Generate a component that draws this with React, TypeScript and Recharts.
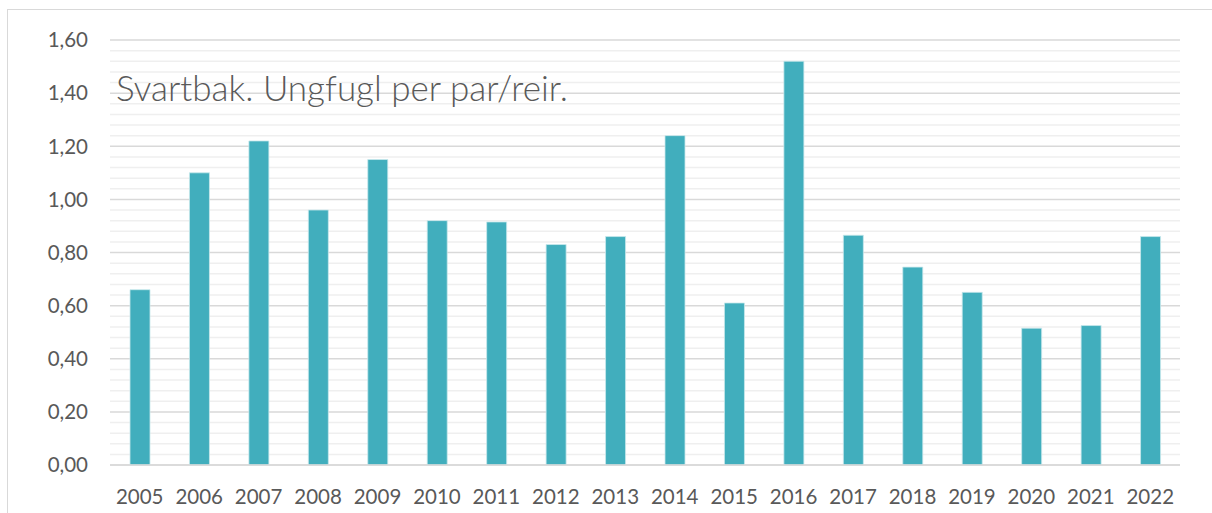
import { BarChart, Bar, XAxis, YAxis, CartesianGrid } from "recharts"

const years = ["2005", "2006", "2007", "2008", "2009", "2010", "2011", "2012", "2013", "2014", "2015", "2016", "2017", "2018", "2019", "2020", "2021", "2022"]
const chicksPerNest = [0.66, 1.10, 1.22, 0.96, 1.15, 0.92, 0.915, 0.83, 0.86, 1.24, 0.61, 1.52, 0.865, 0.745, 0.65, 0.515, 0.525, 0.86]
const majorTicks = [0, 0.2, 0.4, 0.6, 0.8, 1.0, 1.2, 1.4, 1.6]
// lighter lines between the major ones, every 0.04
const minorTicks = majorTicks.slice(0, -1).flatMap(t => [0.04, 0.08, 0.12, 0.16].map(s => +(t + s).toFixed(2)))
const allTicks = [...majorTicks, ...minorTicks].sort((a, b) => a - b)

const chartTitle = "Svartbak. Ungfugl per par/reir."

const data = years.map((year, i) => ({ year, value: chicksPerNest[i] }))

const FONT = "Lato, 'Noto Sans', sans-serif"
const TEXT = "#595959"

const gridLine = (p: any) => (
  <line
    key={p.key ?? `g-${p.index}`}
    x1={p.x1}
    y1={p.y1}
    x2={p.x2}
    y2={p.y2}
    stroke={majorTicks.includes(allTicks[p.index]) ? "#d9d9d9" : "#efefef"}
    strokeWidth={1.5}
  />
)

export default function App() {
  return (
    <div style={{ position: "absolute", left: 0, top: 0, width: 1212, height: 513, overflow: "hidden", background: "#fff", fontFamily: FONT }}>
      <div style={{ position: "absolute", left: 7, top: 9, width: 1240, height: 540, border: "1.5px solid #d9d9d9" }} />
      <BarChart
        width={1212}
        height={513}
        data={data}
        margin={{ top: 40, right: 32, left: 0, bottom: 0 }}
        barSize={20}
        style={{ position: "absolute", left: 0, top: 0 }}
      >
        <CartesianGrid vertical={false} horizontal={gridLine} />
        <XAxis
          dataKey="year"
          height={48}
          tickLine={false}
          tickSize={0}
          tickMargin={24}
          axisLine={{ stroke: "#d9d9d9", strokeWidth: 1.5 }}
          tick={{ fill: TEXT, fontSize: 20.5, fontFamily: FONT }}
        />
        <YAxis
          width={110}
          domain={[0, 1.6]}
          ticks={allTicks}
          interval={0}
          tickLine={false}
          tickSize={0}
          tickMargin={22}
          axisLine={false}
          tickFormatter={(v: number) => (majorTicks.includes(v) ? v.toFixed(2).replace(".", ",") : "")}
          tick={{ fill: TEXT, fontSize: 20.5, fontFamily: FONT }}
        />
        <Bar dataKey="value" fill="#41aebd" stroke="#c9e8ec" strokeWidth={0.8} isAnimationActive={false} />
      </BarChart>
      <div style={{ position: "absolute", left: 116, top: 70, fontSize: 35, fontWeight: 300, lineHeight: 1, color: TEXT, whiteSpace: "nowrap" }}>
        {chartTitle}
      </div>
    </div>
  )
}
